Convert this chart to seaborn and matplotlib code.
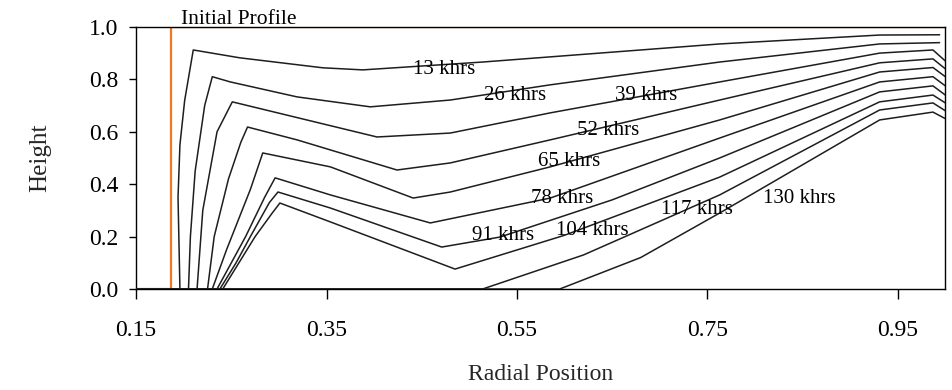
import matplotlib
matplotlib.use("Agg")
import matplotlib.pyplot as plt
import pandas as pd
import seaborn as sns

sns.set_theme(style="white")
plt.rcParams.update({
    "font.family": ["Liberation Serif", "DejaVu Serif"],
    "axes.edgecolor": "black",
    "axes.linewidth": 1.0,
    "xtick.color": "black",
    "ytick.color": "black",
    "text.color": "black",
})

# Initial profile (step)
initial_x = [0.15, 0.187, 0.187, 1.0]
initial_y = [0.0, 0.0, 1.0, 1.0]

# Height profiles
x_13 = [0.15, 0.196, 0.194, 0.196, 0.201, 0.210, 0.259, 0.346, 0.388, 0.514, 0.763, 0.931, 0.994]
y_13 = [0.0, 0.0, 0.35, 0.55, 0.72, 0.912, 0.882, 0.844, 0.836, 0.866, 0.935, 0.969, 0.970]

x_26 = [0.15, 0.205, 0.207, 0.212, 0.222, 0.230, 0.249, 0.319, 0.396, 0.480, 0.585, 0.763, 0.931, 0.994]
y_26 = [0.0, 0.0, 0.20, 0.45, 0.70, 0.810, 0.790, 0.733, 0.695, 0.721, 0.779, 0.866, 0.935, 0.940]

x_39 = [0.15, 0.214, 0.220, 0.235, 0.251, 0.403, 0.480, 0.585, 0.763, 0.931, 0.987, 1.0]
y_39 = [0.0, 0.0, 0.30, 0.60, 0.714, 0.580, 0.595, 0.672, 0.790, 0.900, 0.912, 0.870]

x_52 = [0.15, 0.225, 0.232, 0.247, 0.260, 0.267, 0.319, 0.424, 0.480, 0.585, 0.763, 0.931, 0.987, 1.0]
y_52 = [0.0, 0.0, 0.20, 0.42, 0.56, 0.618, 0.569, 0.454, 0.481, 0.569, 0.721, 0.863, 0.878, 0.840]

x_65 = [0.15, 0.230, 0.245, 0.270, 0.283, 0.354, 0.441, 0.480, 0.585, 0.763, 0.931, 0.987, 1.0]
y_65 = [0.0, 0.0, 0.15, 0.38, 0.519, 0.466, 0.347, 0.370, 0.466, 0.645, 0.828, 0.845, 0.810]

x_78 = [0.15, 0.235, 0.250, 0.265, 0.285, 0.296, 0.354, 0.459, 0.585, 0.763, 0.931, 0.987, 1.0]
y_78 = [0.0, 0.0, 0.10, 0.20, 0.35, 0.424, 0.359, 0.252, 0.347, 0.576, 0.790, 0.810, 0.775]

x_91 = [0.15, 0.238, 0.255, 0.270, 0.290, 0.299, 0.354, 0.471, 0.532, 0.650, 0.763, 0.931, 0.987, 1.0]
y_91 = [0.0, 0.0, 0.10, 0.20, 0.33, 0.370, 0.309, 0.160, 0.198, 0.340, 0.500, 0.752, 0.775, 0.740]

x_104 = [0.15, 0.241, 0.258, 0.275, 0.293, 0.301, 0.354, 0.485, 0.600, 0.763, 0.931, 0.987, 1.0]
y_104 = [0.0, 0.0, 0.10, 0.20, 0.29, 0.328, 0.256, 0.076, 0.205, 0.427, 0.714, 0.740, 0.710]

x_117 = [0.15, 0.514, 0.620, 0.763, 0.931, 0.987, 1.0]
y_117 = [0.0, 0.0, 0.130, 0.359, 0.683, 0.710, 0.680]

x_130 = [0.15, 0.595, 0.680, 0.763, 0.931, 0.987, 1.0]
y_130 = [0.0, 0.0, 0.120, 0.290, 0.645, 0.675, 0.650]

curve_names = ["13 khrs", "26 khrs", "39 khrs", "52 khrs", "65 khrs",
               "78 khrs", "91 khrs", "104 khrs", "117 khrs", "130 khrs"]
curve_x = [x_13, x_26, x_39, x_52, x_65, x_78, x_91, x_104, x_117, x_130]
curve_y = [y_13, y_26, y_39, y_52, y_65, y_78, y_91, y_104, y_117, y_130]

# label anchor positions (data coords)
label_x = [0.473, 0.548, 0.686, 0.646, 0.605, 0.597, 0.535, 0.629, 0.739, 0.847]
label_y = [0.836, 0.740, 0.740, 0.603, 0.485, 0.344, 0.206, 0.225, 0.302, 0.344]

rows = []
for name, xs, ys in zip(curve_names, curve_x, curve_y):
    for xv, yv in zip(xs, ys):
        rows.append({"curve": name, "x": xv, "y": yv})
df = pd.DataFrame(rows)
df_init = pd.DataFrame({"x": initial_x, "y": initial_y})

fig = plt.figure(figsize=(9.52, 3.9), dpi=100)
ax = fig.add_axes([0.143, 0.259, 0.850, 0.672])

sns.lineplot(data=df_init, x="x", y="y", sort=False, estimator=None,
             color="#f07820", lw=1.6, ax=ax, zorder=2)
sns.lineplot(data=df, x="x", y="y", units="curve", estimator=None,
             sort=False, color="#1e1e1e", lw=1.1, ax=ax, zorder=3)

for name, lx, ly in zip(curve_names, label_x, label_y):
    ax.text(lx, ly, name, ha="center", va="center", fontsize=15, zorder=4)
ax.text(0.197, 1.03, "Initial Profile", ha="left", va="center",
        fontsize=15.5, clip_on=False)

ax.set_xlim(0.15, 1.0)
ax.set_ylim(0, 1.0)
ax.set_xticks([0.15, 0.35, 0.55, 0.75, 0.95])
ax.set_xticklabels(["0.15", "0.35", "0.55", "0.75", "0.95"])
ax.set_yticks([0.0, 0.2, 0.4, 0.6, 0.8, 1.0])
ax.set_yticklabels(["0.0", "0.2", "0.4", "0.6", "0.8", "1.0"])
ax.tick_params(axis="x", direction="out", length=7, width=1, pad=15,
               labelsize=17, bottom=True)
ax.tick_params(axis="y", direction="out", length=5, width=1, pad=8,
               labelsize=17, left=True)

ax.set_xlabel("Radial Position", fontsize=17)
ax.set_ylabel("Height", fontsize=18)
ax.xaxis.set_label_coords(0.5, -0.285)
ax.yaxis.set_label_coords(-0.105, 0.5)

for s in ax.spines.values():
    s.set_visible(True)
    s.set_color("black")

fig.savefig("out.png", dpi=100, facecolor="white")
